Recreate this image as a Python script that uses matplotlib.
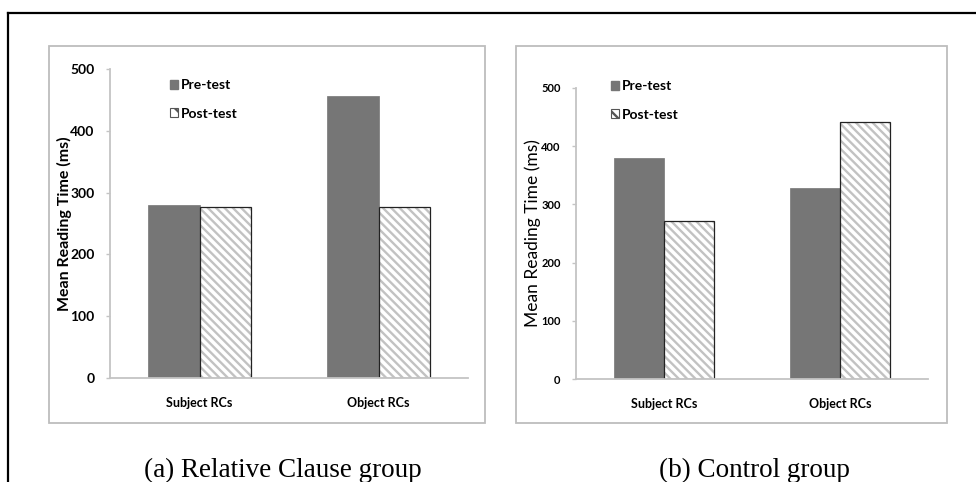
import matplotlib.pyplot as plt
from matplotlib.patches import Rectangle, Patch
from matplotlib.lines import Line2D

W, H = 976, 482

categories = ['Subject RCs', 'Object RCs']
series = ['Pre-test', 'Post-test']
rc_pre = [280, 456]
rc_post = [277, 277]
ctrl_pre = [380, 328]
ctrl_post = [271, 442]
yticks = [0, 100, 200, 300, 400, 500]
captions = ['(a) Relative Clause group', '(b) Control group']

SANS = ['Lato', 'DejaVu Sans']
BAR = '#767676'
HATCH = '#c2c2c2'
AXIS = '#c4c4c4'

plt.rcParams['hatch.linewidth'] = 1.7

fig = plt.figure(figsize=(W / 100, H / 100), dpi=100)


def fx(x):
    return x / W


def fy(y):
    return 1 - y / H


# outer frame (only top and left edges visible)
fig.add_artist(Line2D([fx(8), 1], [fy(13), fy(13)], color='black', lw=1.6))
fig.add_artist(Line2D([fx(8), fx(8)], [fy(13), 0], color='black', lw=1.6))


def panel(box, axbox, pre, post, tick_fs, lab_fs, ylab_fs, ylab_w, leg_xy, ylab_x,
          caption, cap_x):
    x0, y0, x1, y1 = box
    fig.add_artist(Rectangle((fx(x0), fy(y1)), fx(x1 - x0), (y1 - y0) / H,
                             fill=False, edgecolor='#bdbdbd', lw=1.3))
    ax_l, ax_t, ax_r, ax_b = axbox
    ax = fig.add_axes([fx(ax_l), fy(ax_b), fx(ax_r - ax_l), (ax_b - ax_t) / H])
    xs = list(range(len(categories)))
    bw = 0.285
    ax.bar([x - bw / 2 for x in xs], pre, bw, color=BAR, edgecolor=BAR, lw=0.5)
    ax.bar([x + bw / 2 for x in xs], post, bw, color='white', edgecolor=HATCH,
           hatch='\\\\\\\\', lw=0)
    ax.bar([x + bw / 2 for x in xs], post, bw, fill=False, edgecolor='#222222', lw=0.9)
    ax.set_xlim(-0.5, 1.5)
    ax.set_ylim(0, 500)
    ax.set_yticks(yticks)
    ax.set_xticks(xs)
    ax.set_xticklabels(categories, fontsize=lab_fs, fontweight='bold', family=SANS)
    ax.set_yticklabels([str(t) for t in yticks], fontsize=tick_fs, fontweight='bold',
                       family=SANS)
    ax.tick_params(axis='x', length=0, pad=14)
    ax.tick_params(axis='y', length=3, color=AXIS, width=1, pad=8)
    for s in ['top', 'right']:
        ax.spines[s].set_visible(False)
    for s in ['left', 'bottom']:
        ax.spines[s].set_color(AXIS)
        ax.spines[s].set_linewidth(1.3)
    ax.set_facecolor('none')
    fig.text(fx(ylab_x), fy((ax_t + ax_b) / 2), 'Mean Reading Time (ms)', rotation=90,
             ha='center', va='center', fontsize=ylab_fs, fontweight=ylab_w, family=SANS)
    handles = [Patch(facecolor=BAR, edgecolor=BAR),
               Patch(facecolor='white', edgecolor='#555555', hatch='\\\\', lw=0.8)]
    ax.legend(handles, series, loc='upper left',
              bbox_to_anchor=(fx(leg_xy[0]), fy(leg_xy[1])), bbox_transform=fig.transFigure,
              frameon=False, handlelength=0.6, handleheight=0.6, handletextpad=0.15,
              labelspacing=1.2, borderaxespad=0, borderpad=0,
              prop={'family': SANS, 'weight': 'bold', 'size': lab_fs + 1})
    fig.text(fx(cap_x), fy(470), caption, ha='center', va='center', fontsize=19.5,
             family=['Liberation Serif', 'DejaVu Serif'])


panel((49, 46, 485, 423), (110, 69, 468, 378), rc_pre, rc_post, 10, 9, 11.5, 'bold',
      (170, 79), 64, captions[0], 283)
panel((516, 46, 947, 423), (576, 88, 928, 379), ctrl_pre, ctrl_post, 8, 9, 12.5, 'normal',
      (611, 80), 533, captions[1], 754)

fig.savefig('out.png', dpi=100, facecolor='white')
